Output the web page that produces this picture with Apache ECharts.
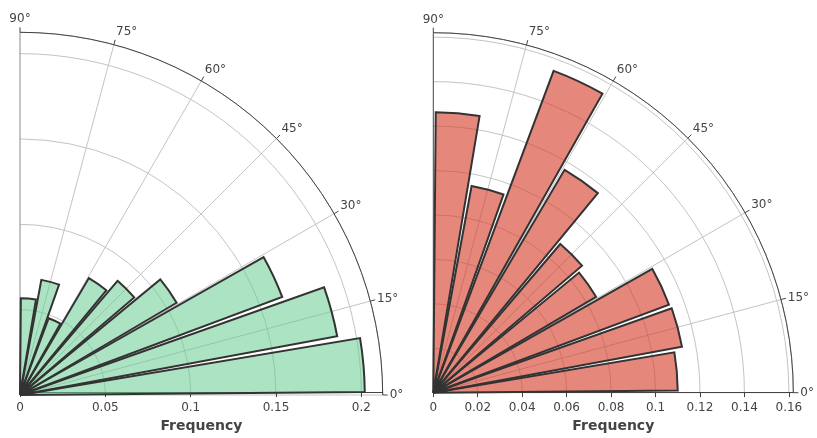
<!DOCTYPE html>
<html>
<head>
<meta charset="utf-8">
<script src="https://cdn.jsdelivr.net/npm/echarts@6/dist/echarts.min.js"></script>
<style>
html,body{margin:0;padding:0;background:#fff;}
#chart{width:817px;height:438px;}
</style>
</head>
<body>
<div id="chart"></div>
<script>
// 10-degree direction bins from 0° to 90°
const bins = ['0-10', '10-20', '20-30', '30-40', '40-50', '50-60', '60-70', '70-80', '80-90'];
// Relative frequency of each bin
const leftFreq = [0.202, 0.189, 0.164, 0.1065, 0.088, 0.0795, 0.048, 0.0686, 0.0567];
const rightFreq = [0.110, 0.1138, 0.1132, 0.085, 0.088, 0.1164, 0.1546, 0.0946, 0.1262];
// Tick values
const angleTicks = [0, 15, 30, 45, 60, 75, 90];
const leftRadiusTicks = [0, 0.05, 0.1, 0.15, 0.2];
const rightRadiusTicks = [0, 0.02, 0.04, 0.06, 0.08, 0.1, 0.12, 0.14, 0.16];
const axisTitle = 'Frequency';

const FONT = 'DejaVu Sans';
const TXT = '#444';
const GRID = '#c4c4c4';

const panels = [
  { cx: 20, cy: 395, r: 362.7, max: 0.2125, step: 0.05, ticks: leftRadiusTicks, data: leftFreq,
    fill: 'rgba(102,204,145,0.55)', edge90: '#8a8a8a' },
  { cx: 433.3, cy: 392.7, r: 360, max: 0.162, step: 0.02, ticks: rightRadiusTicks, data: rightFreq,
    fill: 'rgba(214,62,44,0.62)', edge90: '#444' }
];

const polar = [], angleAxis = [], radiusAxis = [], grid = [], xAxis = [], yAxis = [], series = [];

panels.forEach((p, i) => {
  const pv = i * 2, pb = i * 2 + 1;
  // polar for the degree grid and labels
  polar.push({ center: [p.cx, p.cy], radius: p.r });
  // polar for the bins
  polar.push({ center: [p.cx, p.cy], radius: p.r });

  const lineColors = angleTicks.map(a => a === 90 ? p.edge90 : GRID);
  angleAxis.push({
    polarIndex: pv, type: 'value', min: 0, max: 90, interval: 15,
    startAngle: 0, endAngle: 90, clockwise: false,
    axisLine: { show: true, lineStyle: { color: TXT, width: 1 } },
    axisTick: { show: true, length: 5, lineStyle: { color: TXT } },
    axisLabel: {
      show: true, margin: 7, color: TXT, fontSize: 12, fontFamily: FONT,
      formatter: v => {
        if (v === 75) return '{s|' + v + '°}';
        if (v === 30 || v === 45 || v === 60) return '{d|' + v + '°}';
        return v + '°';
      },
      rich: {
        s: { padding: [0, 0, 0, 22], color: TXT, fontSize: 12, fontFamily: FONT },
        d: { lineHeight: 9, color: TXT, fontSize: 12, fontFamily: FONT }
      }
    },
    splitLine: { show: true, lineStyle: { color: lineColors, width: 1 } }
  });
  radiusAxis.push({
    polarIndex: pv, type: 'value', min: 0, max: p.max, interval: p.step,
    axisLine: { show: false }, axisTick: { show: false }, axisLabel: { show: false },
    splitLine: { show: true, lineStyle: { color: GRID, width: 1 } }
  });

  angleAxis.push({
    polarIndex: pb, type: 'category', data: bins,
    startAngle: 0, endAngle: 90, clockwise: false, show: false
  });
  radiusAxis.push({ polarIndex: pb, type: 'value', min: 0, max: p.max, show: false });

  // straight frequency axis along 0°
  grid.push({ left: p.cx, width: p.r, top: 0, height: p.cy, containLabel: false });
  xAxis.push({
    gridIndex: i, type: 'value', min: 0, max: p.max, interval: p.step,
    name: axisTitle, nameLocation: 'middle', nameGap: 25,
    nameTextStyle: { fontWeight: 'bold', fontSize: 14, color: TXT, fontFamily: FONT },
    axisLine: { show: true, lineStyle: { color: TXT, width: 1 } },
    axisTick: { show: true, length: 5, lineStyle: { color: TXT }, customValues: p.ticks },
    axisLabel: { margin: 10, color: TXT, fontSize: 12, fontFamily: FONT, customValues: p.ticks },
    splitLine: { show: false }
  });
  yAxis.push({ gridIndex: i, type: 'value', min: 0, max: 1, show: false });

  series.push({
    type: 'bar', coordinateSystem: 'polar', polarIndex: pb,
    data: p.data, barCategoryGap: '10%',
    itemStyle: { color: p.fill, borderColor: '#333', borderWidth: 2 },
    z: 3
  });
});

const chart = echarts.init(document.getElementById('chart'), null, { renderer: 'canvas' });
chart.setOption({
  animation: false,
  backgroundColor: '#fff',
  textStyle: { fontFamily: FONT },
  polar, angleAxis, radiusAxis, grid, xAxis, yAxis, series
});
</script>
</body>
</html>
